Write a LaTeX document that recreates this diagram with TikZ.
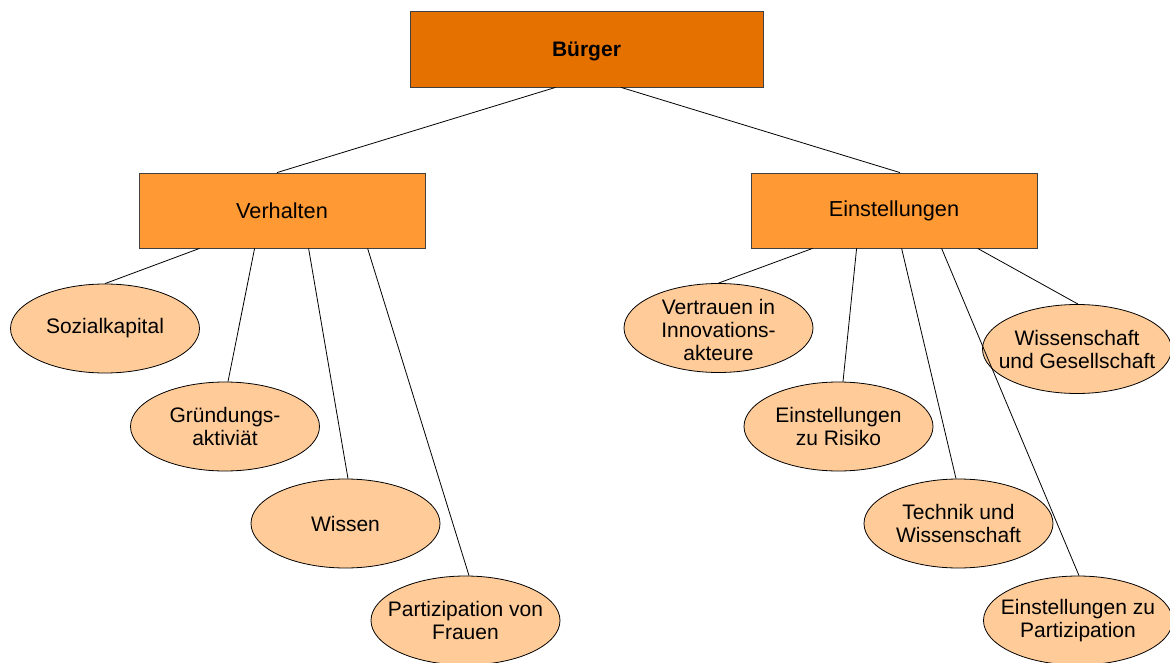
\documentclass[tikz,border=0pt]{standalone}
\usepackage{fontspec}
\setmainfont{Liberation Sans}
\usetikzlibrary{shapes.geometric,calc}
\definecolor{topor}{RGB}{229,114,0}
\definecolor{midor}{RGB}{255,153,51}
\definecolor{lightor}{RGB}{255,204,153}
\begin{document}
\begin{tikzpicture}[x=1pt,y=-1pt,
  topbox/.style={draw=black!75,line width=0.8pt,fill=topor,minimum width=353pt,minimum height=76pt,inner sep=0pt,font=\fontsize{21}{24}\selectfont\bfseries},
  midbox/.style={draw=black!75,line width=0.8pt,fill=midor,minimum width=286pt,minimum height=75pt,inner sep=0pt,font=\fontsize{21.7}{24}\selectfont},
  leaf/.style={ellipse,draw=black,line width=0.8pt,fill=lightor,minimum width=189pt,minimum height=89pt,inner sep=0pt},
  leaftext/.style={align=center,inner sep=0pt,font=\fontsize{21}{23}\selectfont},
  conn/.style={draw=black,line width=0.8pt}]
\useasboundingbox (0,0) rectangle (1170,663);
\fill[white] (0,0) rectangle (1170,663);
% boxes
\node[topbox] (b) at (586.5,49) {};
\node[font=\fontsize{21}{24}\selectfont\bfseries,inner sep=0pt] at ($(b.center)+(0,2)$) {Bürger};
\node[midbox] (v) at (282,210.5) {Verhalten};
\node[midbox] (e) at (894,210.5) {Einstellungen};
% leaves left
\node[leaf] (l1) at (105,328.5) {};
\node[leaftext] at (l1) {Sozialkapital};
\node[leaf] (l2) at (225,426.5) {};
\node[leaftext] at (l2) {Gründungs-\\aktiviät};
\node[leaf] (l3) at (345.5,523.5) {};
\node[leaftext] at (l3) {Wissen};
\node[leaf] (l4) at (465.5,620.5) {};
\node[leaftext] at (l4) {Partizipation von\\Frauen};
% leaves right
\node[leaf] (r1) at (718.5,328) {};
\node[leaftext] at ($(r1.center)+(0,2)$) {Vertrauen in\\Innovations-\\akteure};
\node[leaf] (r2) at (838.5,426.5) {};
\node[leaftext] at (r2) {Einstellungen\\zu Risiko};
\node[leaf] (r3) at (958.5,523.5) {};
\node[leaftext] at (r3) {Technik und\\Wissenschaft};
\node[leaf] (r4) at (1077,349) {};
\node[leaftext] at (r4) {Wissenschaft\\und Gesellschaft};
\node[leaf] (r5) at (1078,620.5) {};
\node[leaftext] at (r5) {Einstellungen zu\\Partizipation};
% connectors
\draw[conn] ($(b.south)+(-31,0)$) -- ($(v.north)+(-5,0)$);
\draw[conn] ($(b.south)+(34.5,0)$) -- ($(e.north)+(6,0)$);
\draw[conn] ($(v.south west)+(61,0)$) -- (l1.north);
\draw[conn] ($(v.south west)+(116,0)$) -- ($(l2.north)+(3,0)$);
\draw[conn] ($(v.south west)+(170,0)$) -- ($(l3.north)+(2.5,0)$);
\draw[conn] ($(v.south west)+(229,0)$) -- ($(l4.north)+(3.5,0)$);
\draw[conn] ($(e.south west)+(62,0)$) -- (r1.north);
\draw[conn] ($(e.south west)+(106,0)$) -- ($(r2.north)+(4.5,0)$);
\draw[conn] ($(e.south west)+(151,0)$) -- ($(r3.north)+(-2.5,0)$);
\draw[conn] ($(e.south west)+(191,0)$) -- ($(r5.north)+(1,0)$);
\draw[conn] ($(e.south west)+(227,0)$) -- ($(r4.north)+(1,0)$);
\end{tikzpicture}
\end{document}
